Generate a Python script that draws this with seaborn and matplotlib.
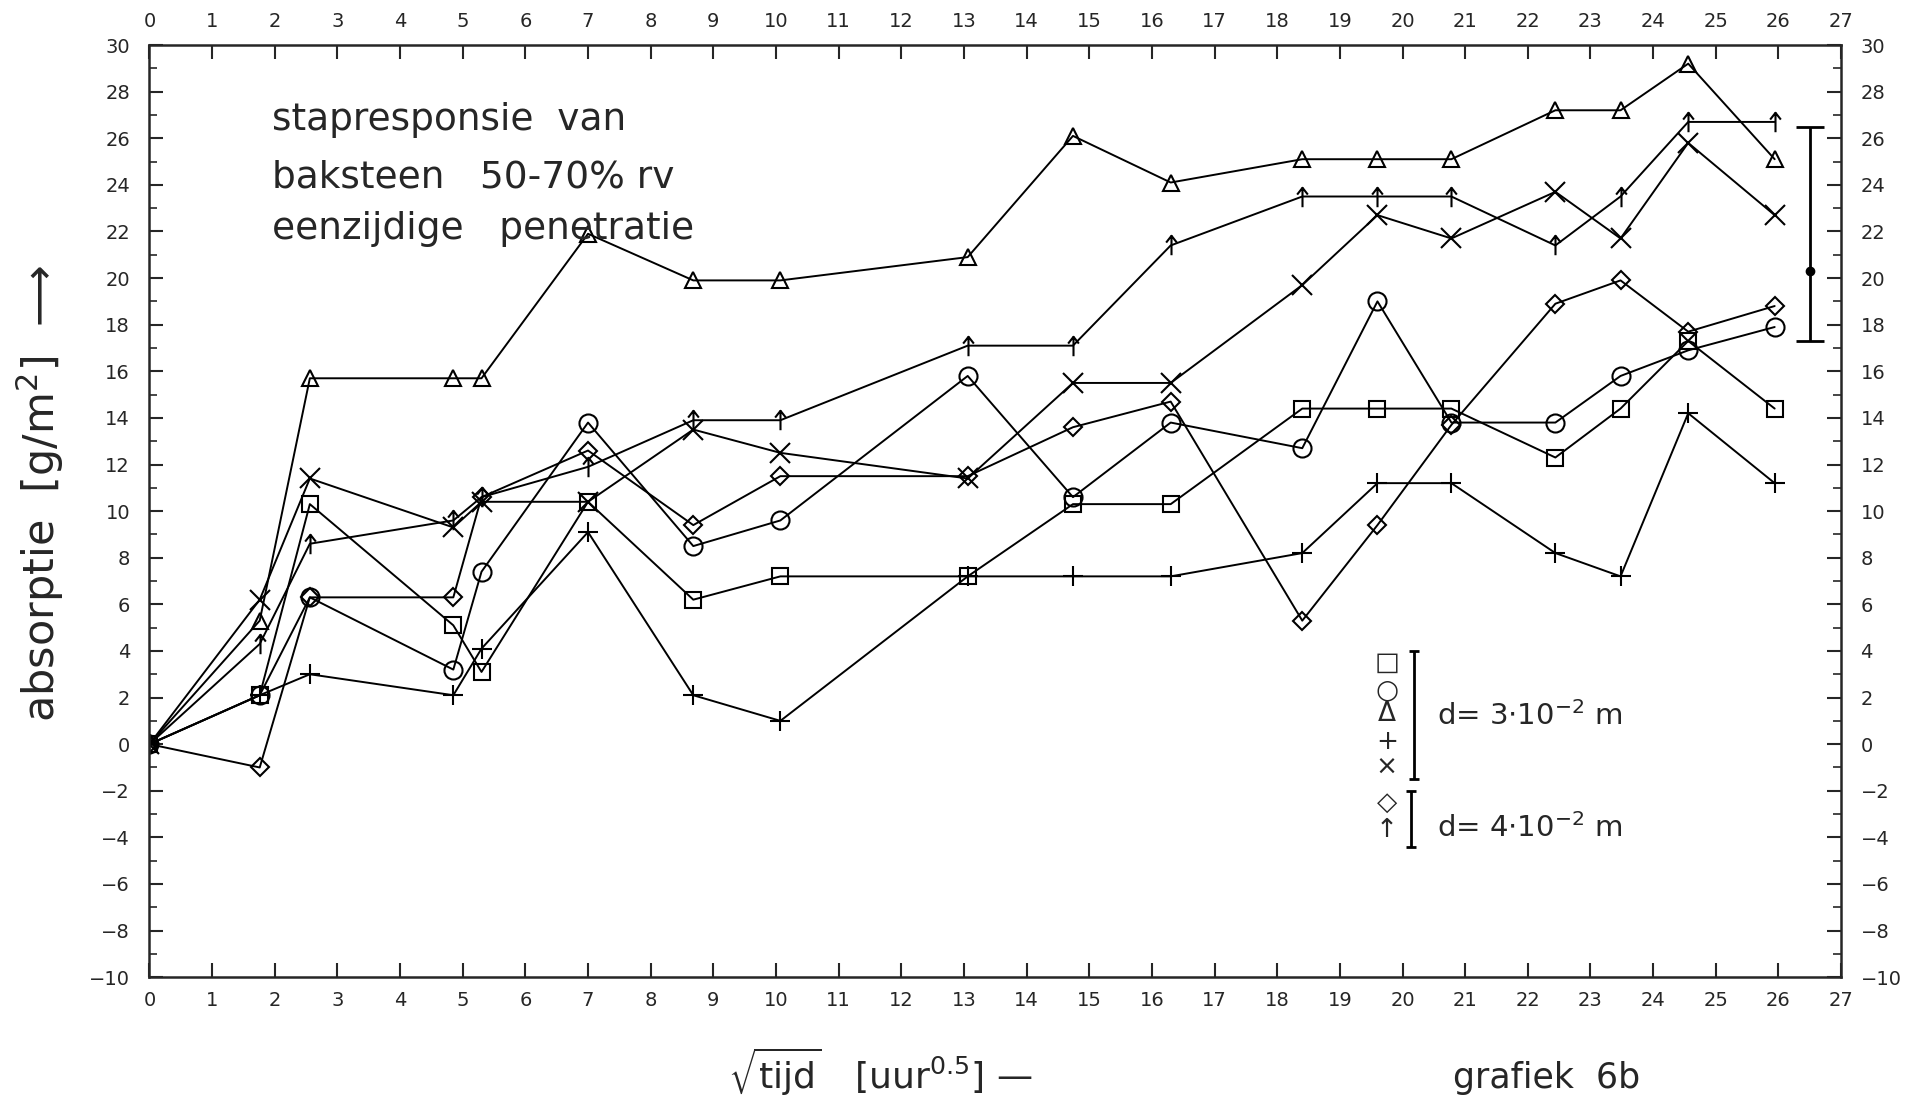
import numpy as np
import pandas as pd
import seaborn as sns
import matplotlib.pyplot as plt
from matplotlib.path import Path

# sqrt(tijd) in uur^0.5, the same measuring moments for every sample
x = [0, 1.76, 2.56, 4.85, 5.3, 7.0, 8.68, 10.07, 13.06, 14.74, 16.3,
     18.4, 19.6, 20.78, 22.44, 23.48, 24.56, 25.94]

# absorptie [g/m2] per sample
square = [0, 2.1, 10.3, 5.1, 3.1, 10.4, 6.2, 7.2, 7.2, 10.3, 10.3,
          14.4, 14.4, 14.4, 12.3, 14.4, 17.3, 14.4]
circle = [0, 2.1, 6.3, 3.2, 7.4, 13.8, 8.5, 9.6, 15.8, 10.6, 13.8,
          12.7, 19.0, 13.8, 13.8, 15.8, 16.9, 17.9]
triangle = [0, 5.3, 15.7, 15.7, 15.7, 21.9, 19.9, 19.9, 20.9, 26.1, 24.1,
            25.1, 25.1, 25.1, 27.2, 27.2, 29.2, 25.1]
plus = [0, 2.1, 3.0, 2.1, 4.1, 9.1, 2.1, 1.0, 7.2, 7.2, 7.2,
        8.2, 11.2, 11.2, 8.2, 7.2, 14.2, 11.2]
cross = [0, 6.2, 11.4, 9.3, 10.4, 10.4, 13.5, 12.5, 11.4, 15.5, 15.5,
         19.7, 22.7, 21.7, 23.7, 21.7, 25.8, 22.7]
diamond = [0, -1.0, 6.3, 6.3, 10.6, 12.6, 9.4, 11.5, 11.5, 13.6, 14.7,
           5.3, 9.4, 13.7, 18.9, 19.9, 17.7, 18.8]
arrow = [0, 4.3, 8.6, 9.6, 10.6, 11.9, 13.9, 13.9, 17.1, 17.1, 21.4,
         23.5, 23.5, 23.5, 21.4, 23.5, 26.7, 26.7]

# spreiding (rechts in de grafiek)
err_x, err_mid, err_low, err_high = 26.5, 20.3, 17.3, 26.5

arrow_marker = Path([(0, -1), (0, 1), (-0.55, 0.3), (0, 1), (0.55, 0.3)],
                    [Path.MOVETO, Path.LINETO, Path.MOVETO, Path.LINETO, Path.LINETO])

series = [
    (square, 's', 12),
    (circle, 'o', 13),
    (triangle, '^', 11),
    (plus, '+', 14),
    (cross, 'x', 14),
    (diamond, 'D', 9),
    (arrow, arrow_marker, 14),
]

sns.set_style('ticks')
plt.rcParams['font.family'] = ['DejaVu Sans']

fig = plt.figure(figsize=(19.21, 10.98), dpi=100)
ax = fig.add_axes([0.0778, 0.110, 0.8806, 0.849])

for vals, m, ms in series:
    df = pd.DataFrame({'t': x, 'a': vals})
    sns.lineplot(data=df, x='t', y='a', ax=ax, sort=False, estimator=None,
                 color='black', lw=1.4, marker=m, markersize=ms,
                 markerfacecolor='none', markeredgecolor='black',
                 markeredgewidth=1.5)

ax.errorbar([err_x], [err_mid], yerr=[[err_mid - err_low], [err_high - err_mid]],
            fmt='o', color='black', ms=6, lw=2, capsize=10, capthick=2)

ax.set_xlim(0, 27)
ax.set_ylim(-10, 30)
ax.set_xticks(range(0, 28))
ax.set_yticks(range(-10, 31, 2))
ax.set_yticks(range(-10, 31, 1), minor=True)
ax.tick_params(axis='both', which='major', direction='in', length=10, width=1.5,
               labelsize=14, top=True, right=True, labeltop=True, labelright=True)
ax.tick_params(axis='x', pad=10)
ax.tick_params(axis='y', pad=14)
ax.tick_params(axis='y', which='minor', direction='in', length=6, width=1.2,
               left=True, right=True)
for s in ax.spines.values():
    s.set_linewidth(1.8)
ax.set_xlabel('')
ax.set_ylabel('')

# titel binnen de grafiek
ax.text(1.95, 26.8, 'stapresponsie  van', fontsize=27, va='center')
ax.text(1.95, 24.3, 'baksteen   50-70% rv', fontsize=27, va='center')
ax.text(1.95, 22.1, 'eenzijdige   penetratie', fontsize=27, va='center')

# legenda
legend_syms = ['□', '○', 'Δ', '+', '×', '◇', '↑']
legend_y = [3.5, 2.3, 1.3, 0.1, -1.0, -2.5, -3.7]
for sym, yy in zip(legend_syms, legend_y):
    ax.text(19.75, yy, sym, fontsize=19, ha='center', va='center')
ax.vlines(20.18, -1.5, 4.0, color='black', lw=2)
ax.hlines([-1.5, 4.0], 20.1, 20.26, color='black', lw=2)
ax.vlines(20.14, -4.4, -2.0, color='black', lw=2)
ax.hlines([-4.4, -2.0], 20.06, 20.22, color='black', lw=2)
ax.text(20.55, 1.2, r'd= 3$\cdot$10$^{-2}$ m', fontsize=21, va='center')
ax.text(20.55, -3.6, r'd= 4$\cdot$10$^{-2}$ m', fontsize=21, va='center')

fig.text(0.021, 0.55, 'absorptie  [g/m$^2$]  ⟶', rotation=90, fontsize=31,
         ha='center', va='center')
fig.text(0.458, 0.024, r'$\sqrt{\mathrm{tijd}}$   [uur$^{0.5}$] —', fontsize=26,
         ha='center', va='center')
fig.text(0.805, 0.018, 'grafiek  6b', fontsize=25, ha='center', va='center')

fig.savefig('out.png', dpi=100, facecolor='white')
